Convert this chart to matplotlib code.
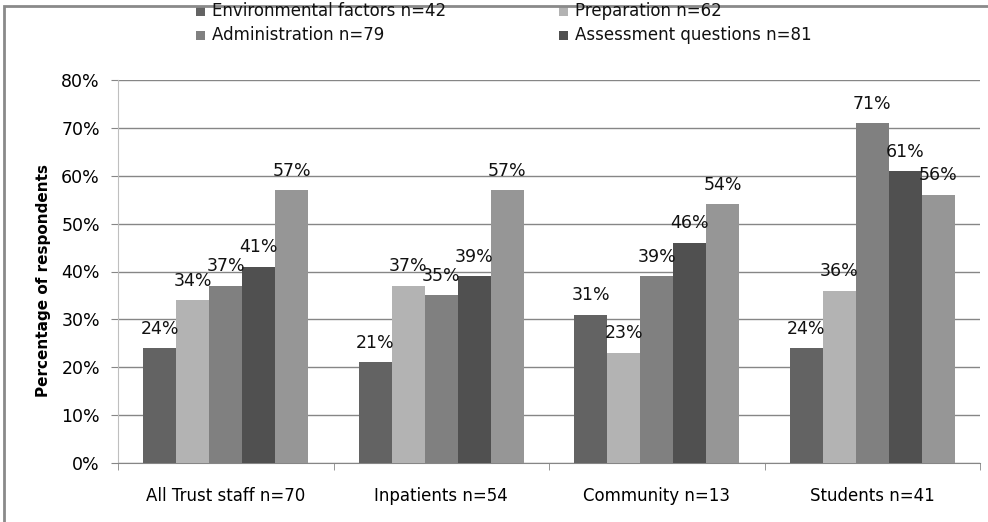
import matplotlib
matplotlib.use("Agg")
import matplotlib.pyplot as plt
import numpy as np
from matplotlib.patches import Rectangle
from matplotlib.ticker import FixedLocator, PercentFormatter

plt.rcParams['font.family'] = ['DejaVu Sans']

categories = ["All Trust staff n=70", "Inpatients n=54", "Community n=13", "Students n=41"]
series_names = ["Environmental factors n=42", "Preparation n=62",
                "Administration n=79", "Assessment questions n=81", None]
values = [
    [24, 21, 31, 24],
    [34, 37, 23, 36],
    [37, 35, 39, 71],
    [41, 39, 46, 61],
    [57, 57, 54, 56],
]
colors = ["#636363", "#b3b3b3", "#808080", "#505050", "#969696"]

W, H = 988, 522
fig = plt.figure(figsize=(W / 100, H / 100), dpi=100)
ax = fig.add_axes([118 / W, 1 - 463 / H, (980 - 118) / W, (463 - 80) / H])

FS = 12.5
n = len(values)
bw = 0.153
x = np.arange(len(categories))
for i, (vals, c) in enumerate(zip(values, colors)):
    pos = x + (i - (n - 1) / 2) * bw
    ax.bar(pos, np.array(vals) / 100, bw, color=c, zorder=3)
    for p, v in zip(pos, vals):
        ax.annotate(f"{v}%", (p, v / 100), xytext=(0, 14), textcoords="offset points",
                    ha="center", va="center", fontsize=FS, color="#111111", zorder=4)

ax.set_xlim(-0.5, len(categories) - 0.5)
ax.set_ylim(0, 0.8)
ax.yaxis.set_major_locator(FixedLocator(np.arange(0, 0.81, 0.1)))
ax.yaxis.set_major_formatter(PercentFormatter(1.0, decimals=0))
ax.grid(axis="y", color="#868686", linewidth=1, zorder=0)
ax.set_xticks(x)
ax.set_xticklabels(categories, fontsize=12)
ax.set_xticks(np.arange(-0.5, len(categories), 1), minor=True)
ax.tick_params(axis="x", which="major", length=0, pad=17)
ax.tick_params(axis="x", which="minor", length=5, color="#868686", direction="out")
ax.tick_params(axis="y", length=5, color="#868686", labelsize=FS, pad=8)
for s in ["top", "right"]:
    ax.spines[s].set_visible(False)
ax.spines["left"].set_color("#bfbfbf")
ax.spines["bottom"].set_color("#868686")
ax.set_ylabel("Percentage of respondents", fontsize=11, fontweight="bold")
ax.yaxis.set_label_coords(-(118 - 51) / (980 - 118), (463 - 280) / (463 - 80))

# legend (two columns, row-wise order)
leg_pos = [(196, 11.5), (559, 11.5), (196, 35.5), (559, 35.5)]
for (px, py), name, c in zip(leg_pos, series_names[:4], colors[:4]):
    fig.patches.append(Rectangle((px / W, 1 - (py + 4.5) / H), 9 / W, 9 / H,
                                 transform=fig.transFigure, facecolor=c, edgecolor="none"))
    fig.text((px + 16) / W, 1 - py / H, name, fontsize=12, va="center", ha="left",
             color="#111111")

fig.patches.append(Rectangle((4 / W, -0.05), 1.1, 1 - 6 / H + 0.05, transform=fig.transFigure,
                             fill=False, edgecolor="#8a8a8a", linewidth=2))

fig.savefig("out.png", dpi=100)
